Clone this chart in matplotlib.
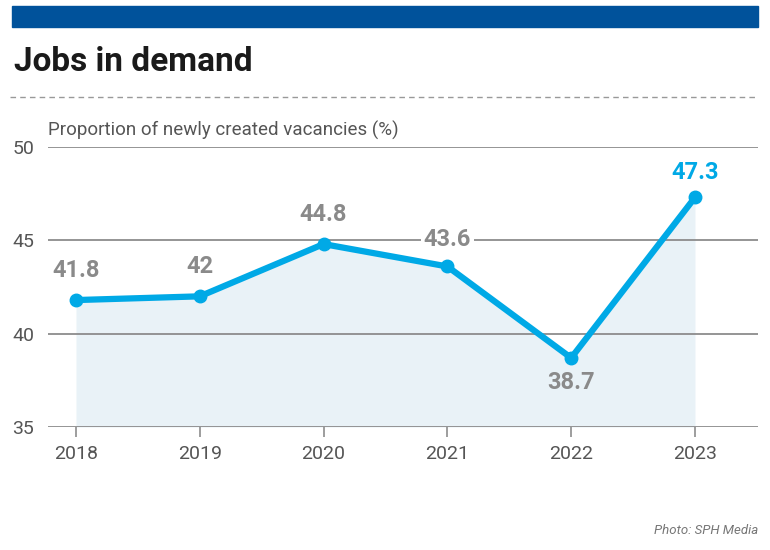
import matplotlib.pyplot as plt
from matplotlib.patches import Rectangle
from matplotlib.lines import Line2D

years = [2018, 2019, 2020, 2021, 2022, 2023]
share = [41.8, 42.0, 44.8, 43.6, 38.7, 47.3]
labels = ["41.8", "42", "44.8", "43.6", "38.7", "47.3"]
y_ticks = [35, 40, 45, 50]

LINE = "#00a9e6"
GREY = "#8a8a8a"
FONT = ["Liberation Sans Narrow", "Roboto", "DejaVu Sans"]

plt.rcParams['font.family'] = FONT

fig = plt.figure(figsize=(7.7, 5.5), dpi=100)
fig.patch.set_facecolor("white")

# header bar, title, dashed rule
fig.patches.append(Rectangle((12 / 770, 1 - 27 / 550), 746 / 770, 21 / 550,
                             transform=fig.transFigure, color="#00529b"))
fig.text(14 / 770, 1 - 62 / 550, "Jobs in demand", fontsize=24, fontweight="bold",
         color="#1a1a1a", va="center", family=["Roboto", "DejaVu Sans"])
fig.lines.append(Line2D([10 / 770, 758 / 770], [1 - 97 / 550] * 2, transform=fig.transFigure,
                        color="#999999", lw=1, ls=(0, (4, 3))))
fig.text(48 / 770, 1 - 130 / 550, "Proportion of newly created vacancies (%)",
         fontsize=13.5, color="#555555", va="center")
fig.text(758 / 770, 1 - 530 / 550, "Photo: SPH Media", fontsize=9.5, color="#777777",
         style="italic", ha="right", va="center")

ax = fig.add_axes([48 / 770, 1 - 427 / 550, 710 / 770, 280 / 550])
ax.set_xlim(2017.774, 2023.509)
ax.set_ylim(35, 50)

ax.fill_between(years, share, 35, color="#e9f2f7", lw=0, zorder=1)
for t in y_ticks:
    ax.axhline(t, color="#8c8c8c", lw=1.3, zorder=2)
ax.plot(years, share, color=LINE, lw=4.5, marker="o", ms=9, zorder=4,
        solid_joinstyle="round", solid_capstyle="round")

for x, y, lab in zip(years, share, labels):
    col = LINE if x == years[-1] else GREY
    if y == min(share):
        off = -25
    elif x == 2021:
        off = 27
    else:
        off = 30 if x != years[-1] else 25
    txt = ax.annotate(lab, (x, y), xytext=(0, off * 0.72), textcoords="offset points",
                      ha="center", va="center", fontsize=17, fontweight="bold", color=col,
                      family=["Roboto", "DejaVu Sans"], zorder=5)
    if x == 2021:
        txt.set_bbox(dict(facecolor="white", edgecolor="none", pad=2))

for s in ax.spines.values():
    s.set_visible(False)
ax.set_facecolor("none")
ax.set_xticks(years)
ax.set_xticklabels([str(y) for y in years], fontsize=14, color="#555555")
ax.set_yticks(y_ticks)
ax.set_yticklabels([str(t) for t in y_ticks], fontsize=14, color="#555555")
ax.tick_params(axis="x", length=7, width=1.2, color="#8c8c8c", pad=6)
ax.tick_params(axis="y", length=0, pad=10)

fig.savefig("out.png", dpi=100, facecolor="white")
